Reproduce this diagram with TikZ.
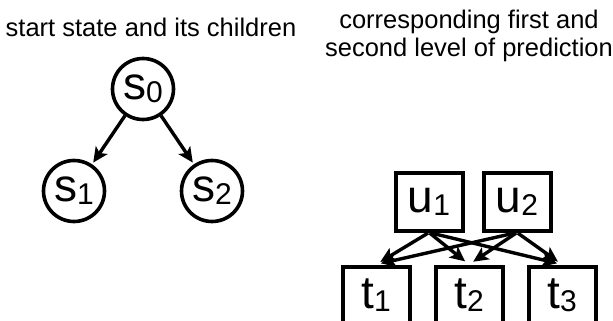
\documentclass[tikz,border=0pt]{standalone}
\usepackage{fontspec}
\setmainfont{Liberation Sans}
\usetikzlibrary{arrows.meta}
\newcommand\nodelabel[2]{\fontsize{46}{46}\selectfont #1\raisebox{-3pt}{\fontsize{30}{30}\selectfont #2}}
\begin{document}
\begin{tikzpicture}[x=1pt,y=-1pt,
  statenode/.style={draw, circle, line width=3.6pt, minimum size=61pt, inner sep=0pt},
  boxnode/.style={draw, rectangle, line width=4pt, minimum width=67pt, minimum height=58pt, inner sep=0pt},
  arr/.style={line width=3.4pt, -{Stealth[length=15pt,width=14pt,inset=3.5pt]}},
  caption/.style={font=\fontsize{25.5}{28}\selectfont, anchor=base, inner sep=0pt}]
\useasboundingbox (0,0) rectangle (613,321);
\clip (0,0) rectangle (613,321);
\node[caption] (capL) at (151,37) {start state and its children};
\node[caption] (capR1) at (469,29) {corresponding first and};
\node[caption] (capR2) at (469,57) {second level of prediction};
\node[statenode] (s0) at (143,89) {\nodelabel{s}{0}};
\node[statenode] (s1) at (74,191) {\nodelabel{s}{1}};
\node[statenode] (s2) at (212,191) {\nodelabel{s}{2}};
\draw[arr, shorten >=2pt] (s0) -- (s1);
\draw[arr, shorten >=2pt] (s0) -- (s2);
\node[boxnode] (u1) at (429,201.5) {\nodelabel{u}{1}};
\node[boxnode] (u2) at (517,201.5) {\nodelabel{u}{2}};
\node[boxnode] (t1) at (376,295.5) {\nodelabel{t}{1}};
\node[boxnode] (t2) at (469,295.5) {\nodelabel{t}{2}};
\node[boxnode] (t3) at (562,295.5) {\nodelabel{t}{3}};
\foreach \a in {u1,u2}{
  \foreach \b in {t1,t2,t3}{
    \draw[arr, shorten >=5pt, shorten <=1pt] (\a.south) -- (\b.north);
  }
}
\end{tikzpicture}
\end{document}
